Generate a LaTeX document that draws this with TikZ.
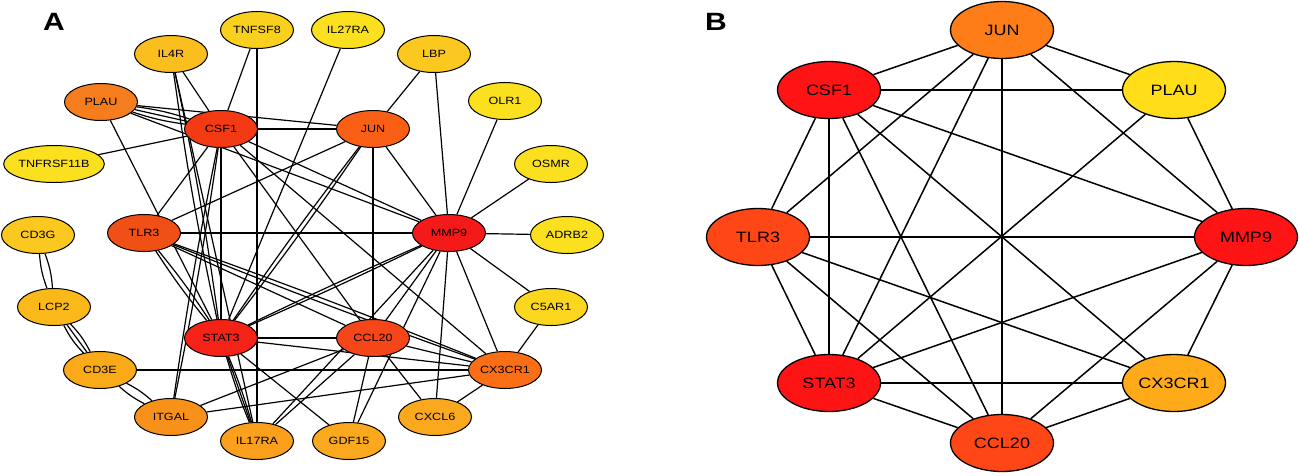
\documentclass[tikz,border=0pt]{standalone}
\usepackage{fontspec}
\newfontfamily\genefont{Liberation Sans}[FakeStretch=1.2]
\usepackage{tikz}
\usetikzlibrary{shapes.geometric,backgrounds}

% panel A fills
\definecolor{aMMP9c}{RGB}{245,26,26}
\definecolor{aSTAT3c}{RGB}{245,34,24}
\definecolor{aCSF1c}{RGB}{243,58,20}
\definecolor{aCCL20c}{RGB}{245,70,26}
\definecolor{aTLR3c}{RGB}{240,80,22}
\definecolor{aJUNc}{RGB}{250,95,22}
\definecolor{aCX3CR1c}{RGB}{250,110,22}
\definecolor{aPLAUc}{RGB}{245,125,30}
\definecolor{aITGALc}{RGB}{248,145,25}
\definecolor{aIL17RAc}{RGB}{250,160,28}
\definecolor{aGDF15c}{RGB}{250,168,30}
\definecolor{aCD3Ec}{RGB}{250,170,25}
\definecolor{aLCP2c}{RGB}{250,185,25}
\definecolor{aIL4Rc}{RGB}{250,190,30}
\definecolor{aCD3Gc}{RGB}{250,200,30}
\definecolor{aTNFSF8c}{RGB}{250,208,30}
\definecolor{aC5AR1c}{RGB}{250,215,30}
\definecolor{aPALEc}{RGB}{250,224,30}
% panel B fills
\definecolor{bRED}{RGB}{255,20,22}
\definecolor{bREDORANGE}{RGB}{255,70,22}
\definecolor{bORANGE}{RGB}{255,125,25}
\definecolor{bAMBER}{RGB}{255,170,25}
\definecolor{bYELLOW}{RGB}{255,222,25}

\begin{document}
\begin{tikzpicture}[x=1pt,y=-1pt,
	gene/.style={ellipse,draw=black,line width=1pt,minimum width=73pt,minimum height=37pt,inner sep=0pt,font=\genefont\fontsize{10.5}{12}\selectfont},
	hub/.style={ellipse,draw=black,line width=1.3pt,minimum width=103pt,minimum height=57pt,inner sep=0pt,font=\genefont\fontsize{15}{17}\selectfont},
	panel/.style={font=\genefont\bfseries\fontsize{25}{25}\selectfont}]
	
	\useasboundingbox (0,0) rectangle (1299,475);
	
	\node[panel](labA) at (54,22){A};
	\node[panel](labB) at (716,22){B};
	
	% panel A
	\node[gene,fill=aTNFSF8c](aTNFSF8) at (257,30){TNFSF8};
	\node[gene,fill=aPALEc](aIL27RA) at (348,30){IL27RA};
	\node[gene,fill=aIL4Rc](aIL4R) at (171,54){IL4R};
	\node[gene,fill=aCD3Gc](aLBP) at (434,54){LBP};
	\node[gene,fill=aPLAUc](aPLAU) at (101,102){PLAU};
	\node[gene,fill=aPALEc](aOLR1) at (505,101){OLR1};
	\node[gene,fill=aCSF1c](aCSF1) at (221,129){CSF1};
	\node[gene,fill=aJUNc](aJUN) at (373,129){JUN};
	\node[gene,fill=aPALEc](aTNFRSF11B) at (54,164){TNFRSF11B};
	\node[gene,fill=aPALEc](aOSMR) at (551,164){OSMR};
	\node[gene,fill=aCD3Gc](aCD3G) at (38,235){CD3G};
	\node[gene,fill=aTLR3c](aTLR3) at (144,233){TLR3};
	\node[gene,fill=aMMP9c](aMMP9) at (449,233){MMP9};
	\node[gene,fill=aPALEc](aADRB2) at (567,235){ADRB2};
	\node[gene,fill=aLCP2c](aLCP2) at (54,307){LCP2};
	\node[gene,fill=aC5AR1c](aC5AR1) at (551,307){C5AR1};
	\node[gene,fill=aSTAT3c](aSTAT3) at (221,338){STAT3};
	\node[gene,fill=aCCL20c](aCCL20) at (373,338){CCL20};
	\node[gene,fill=aCD3Ec](aCD3E) at (100,370){CD3E};
	\node[gene,fill=aCX3CR1c](aCX3CR1) at (505,370){CX3CR1};
	\node[gene,fill=aITGALc](aITGAL) at (171,417){ITGAL};
	\node[gene,fill=aGDF15c](aCXCL6) at (435,417){CXCL6};
	\node[gene,fill=aIL17RAc](aIL17RA) at (257,441){IL17RA};
	\node[gene,fill=aGDF15c](aGDF15) at (349,441){GDF15};
	
	\begin{scope}[on background layer,every edge/.append style={line width=1.2pt}]
	\path
	(aTNFSF8) edge (aCSF1)
	(aTNFSF8) edge (aIL17RA)
	(aIL27RA) edge (aSTAT3)
	(aIL4R) edge (aCSF1)
	(aIL4R) edge [bend left=2] (aSTAT3)
	(aIL4R) edge [bend right=2] (aSTAT3)
	(aIL4R) edge (aIL17RA)
	(aLBP) edge (aJUN)
	(aLBP) edge (aMMP9)
	(aOLR1) edge (aMMP9)
	(aOSMR) edge (aMMP9)
	(aADRB2) edge (aMMP9)
	(aC5AR1) edge (aMMP9)
	(aC5AR1) edge (aCX3CR1)
	(aPLAU) edge (aCSF1)
	(aPLAU) edge [bend left=5] (aCSF1)
	(aPLAU) edge [bend right=5] (aCSF1)
	(aPLAU) edge (aJUN)
	(aPLAU) edge (aMMP9)
	(aPLAU) edge (aSTAT3)
	(aTNFRSF11B) edge (aCSF1)
	(aCSF1) edge (aJUN)
	(aCSF1) edge (aTLR3)
	(aCSF1) edge (aSTAT3)
	(aCSF1) edge [bend left=1.5] (aITGAL)
	(aCSF1) edge [bend right=1.5] (aITGAL)
	(aCSF1) edge (aCCL20)
	(aCSF1) edge (aMMP9)
	(aCSF1) edge (aCX3CR1)
	(aJUN) edge (aTLR3)
	(aJUN) edge [bend left=1.5] (aSTAT3)
	(aJUN) edge [bend right=1.5] (aSTAT3)
	(aJUN) edge (aCCL20)
	(aJUN) edge (aMMP9)
	(aTLR3) edge (aMMP9)
	(aTLR3) edge [bend left=3] (aSTAT3)
	(aTLR3) edge [bend right=3] (aSTAT3)
	(aTLR3) edge (aCCL20)
	(aTLR3) edge [bend left=1] (aCX3CR1)
	(aTLR3) edge [bend right=1] (aCX3CR1)
	(aMMP9) edge [bend left=1] (aSTAT3)
	(aMMP9) edge [bend right=1] (aSTAT3)
	(aMMP9) edge (aCCL20)
	(aMMP9) edge (aCXCL6)
	(aMMP9) edge (aCX3CR1)
	(aMMP9) edge (aGDF15)
	(aMMP9) edge (aIL17RA)
	(aSTAT3) edge (aCCL20)
	(aSTAT3) edge (aCX3CR1)
	(aSTAT3) edge (aIL17RA)
	(aSTAT3) edge [bend left=3] (aIL17RA)
	(aSTAT3) edge [bend right=3] (aIL17RA)
	(aSTAT3) edge (aGDF15)
	(aCCL20) edge (aCX3CR1)
	(aCCL20) edge (aGDF15)
	(aCCL20) edge (aCXCL6)
	(aCCL20) edge (aIL17RA)
	(aCX3CR1) edge (aCXCL6)
	(aCX3CR1) edge (aITGAL)
	(aITGAL) edge (aCCL20)
	(aCD3E) edge (aCX3CR1)
	(aCD3G) edge [bend left=8] (aLCP2)
	(aCD3G) edge [bend right=8] (aLCP2)
	(aLCP2) edge (aCD3E)
	(aLCP2) edge [bend left=8] (aCD3E)
	(aLCP2) edge [bend right=8] (aCD3E)
	(aCD3E) edge [bend left=7] (aITGAL)
	(aCD3E) edge [bend right=7] (aITGAL);
	\end{scope}
	
	% panel B
	\node[hub,fill=bORANGE](bJUN) at (1002,30){JUN};
	\node[hub,fill=bRED](bCSF1) at (829,90){CSF1};
	\node[hub,fill=bYELLOW](bPLAU) at (1174,90){PLAU};
	\node[hub,fill=bREDORANGE](bTLR3) at (758,237){TLR3};
	\node[hub,fill=bRED](bMMP9) at (1246,237){MMP9};
	\node[hub,fill=bRED](bSTAT3) at (829,383){STAT3};
	\node[hub,fill=bAMBER](bCX3CR1) at (1174,383){CX3CR1};
	\node[hub,fill=bREDORANGE](bCCL20) at (1002,443){CCL20};
	
	\begin{scope}[on background layer,every edge/.append style={line width=1.5pt}]
	\path
	(bJUN) edge (bCSF1)
	(bJUN) edge (bPLAU)
	(bJUN) edge (bMMP9)
	(bJUN) edge (bCCL20)
	(bJUN) edge (bTLR3)
	(bJUN) edge (bSTAT3)
	(bCSF1) edge (bPLAU)
	(bCSF1) edge (bMMP9)
	(bCSF1) edge (bCX3CR1)
	(bCSF1) edge (bCCL20)
	(bCSF1) edge (bSTAT3)
	(bCSF1) edge (bTLR3)
	(bPLAU) edge (bMMP9)
	(bPLAU) edge (bSTAT3)
	(bMMP9) edge (bTLR3)
	(bMMP9) edge (bSTAT3)
	(bMMP9) edge (bCCL20)
	(bMMP9) edge (bCX3CR1)
	(bTLR3) edge (bCX3CR1)
	(bTLR3) edge (bCCL20)
	(bTLR3) edge (bSTAT3)
	(bSTAT3) edge (bCX3CR1)
	(bSTAT3) edge (bCCL20)
	(bCCL20) edge (bCX3CR1);
	\end{scope}
	
\end{tikzpicture}
\end{document}
